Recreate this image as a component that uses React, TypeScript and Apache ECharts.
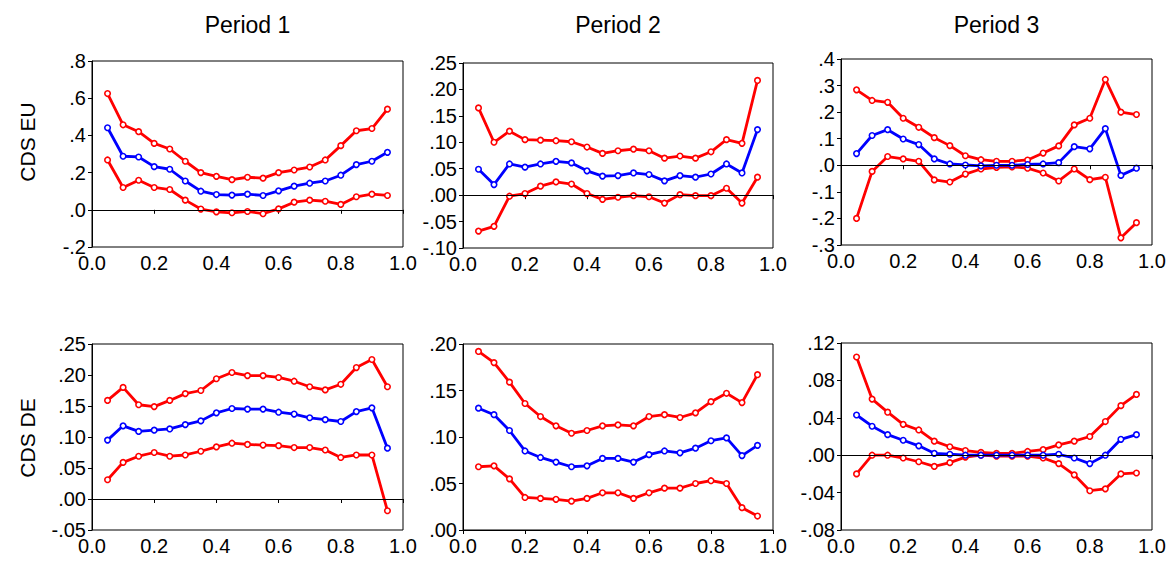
import React, { useEffect, useRef } from "react";
import * as echarts from "echarts";

// Quantile grid (tau) shared by every panel
const tau = [0.05, 0.1, 0.15, 0.2, 0.25, 0.3, 0.35, 0.4, 0.45, 0.5, 0.55, 0.6, 0.65, 0.7, 0.75, 0.8, 0.85, 0.9, 0.95];

const periodTitles = ["Period 1", "Period 2", "Period 3"];
const rowLabels = ["CDS EU", "CDS DE"];

// CDS EU, period 1
const euP1Upper = [0.625, 0.457, 0.42, 0.357, 0.327, 0.261, 0.2, 0.18, 0.162, 0.175, 0.17, 0.2, 0.214, 0.23, 0.268, 0.345, 0.425, 0.437, 0.541];
const euP1Coef = [0.441, 0.288, 0.284, 0.232, 0.218, 0.155, 0.1, 0.082, 0.079, 0.084, 0.077, 0.102, 0.127, 0.143, 0.155, 0.186, 0.243, 0.261, 0.309];
const euP1Lower = [0.268, 0.12, 0.159, 0.12, 0.109, 0.052, 0.004, -0.011, -0.016, -0.009, -0.021, 0.005, 0.041, 0.052, 0.046, 0.029, 0.07, 0.084, 0.077];

// CDS EU, period 2
const euP2Upper = [0.165, 0.1, 0.121, 0.105, 0.104, 0.103, 0.101, 0.091, 0.079, 0.084, 0.087, 0.084, 0.07, 0.074, 0.07, 0.082, 0.105, 0.098, 0.217];
const euP2Coef = [0.049, 0.02, 0.059, 0.053, 0.059, 0.064, 0.061, 0.046, 0.036, 0.037, 0.042, 0.039, 0.027, 0.037, 0.034, 0.04, 0.059, 0.042, 0.124];
const euP2Lower = [-0.068, -0.059, -0.002, 0.003, 0.017, 0.025, 0.021, 0.003, -0.008, -0.004, -0.001, -0.003, -0.015, 0.001, -0.001, -0.001, 0.013, -0.015, 0.034];

// CDS EU, period 3
const euP3Upper = [0.284, 0.244, 0.237, 0.177, 0.143, 0.104, 0.074, 0.036, 0.021, 0.015, 0.015, 0.02, 0.046, 0.073, 0.152, 0.177, 0.323, 0.2, 0.191];
const euP3Coef = [0.044, 0.112, 0.134, 0.099, 0.078, 0.024, 0.005, 0.001, -0.002, 0.0, 0.0, 0.003, 0.005, 0.01, 0.07, 0.062, 0.138, -0.038, -0.011];
const euP3Lower = [-0.2, -0.023, 0.033, 0.024, 0.015, -0.055, -0.063, -0.033, -0.014, -0.008, -0.006, -0.011, -0.029, -0.059, -0.014, -0.054, -0.045, -0.273, -0.216];

// CDS DE, period 1
const deP1Upper = [0.159, 0.18, 0.152, 0.149, 0.159, 0.17, 0.175, 0.194, 0.204, 0.199, 0.199, 0.196, 0.19, 0.181, 0.176, 0.185, 0.212, 0.225, 0.181];
const deP1Coef = [0.095, 0.118, 0.109, 0.111, 0.113, 0.12, 0.126, 0.139, 0.146, 0.145, 0.145, 0.14, 0.137, 0.131, 0.128, 0.125, 0.141, 0.147, 0.082];
const deP1Lower = [0.031, 0.059, 0.069, 0.075, 0.069, 0.071, 0.077, 0.084, 0.09, 0.088, 0.087, 0.086, 0.083, 0.083, 0.079, 0.067, 0.071, 0.071, -0.019];

// CDS DE, period 2
const deP2Upper = [0.192, 0.18, 0.159, 0.136, 0.122, 0.112, 0.104, 0.107, 0.112, 0.113, 0.112, 0.122, 0.124, 0.121, 0.126, 0.138, 0.147, 0.137, 0.167];
const deP2Coef = [0.131, 0.124, 0.107, 0.085, 0.078, 0.073, 0.068, 0.069, 0.077, 0.077, 0.073, 0.081, 0.085, 0.083, 0.088, 0.096, 0.099, 0.08, 0.091];
const deP2Lower = [0.068, 0.069, 0.055, 0.035, 0.034, 0.033, 0.031, 0.034, 0.04, 0.04, 0.034, 0.04, 0.045, 0.045, 0.05, 0.053, 0.05, 0.024, 0.015];

// CDS DE, period 3
const deP3Upper = [0.105, 0.06, 0.046, 0.033, 0.027, 0.015, 0.009, 0.005, 0.003, 0.002, 0.002, 0.004, 0.006, 0.011, 0.015, 0.02, 0.036, 0.053, 0.065];
const deP3Coef = [0.043, 0.031, 0.022, 0.016, 0.01, 0.002, 0.001, 0.0, 0.0, 0.0, 0.0, 0.0, 0.0, 0.001, -0.003, -0.009, 0.0, 0.017, 0.022];
const deP3Lower = [-0.02, 0.0, 0.0, -0.003, -0.007, -0.012, -0.008, -0.002, 0.0, -0.001, -0.001, -0.001, -0.003, -0.009, -0.021, -0.038, -0.036, -0.02, -0.019];

// Y axis ranges: [min, max, interval, decimals]
const yScales: [number, number, number, number][] = [
  [-0.2, 0.8, 0.2, 1],
  [-0.1, 0.25, 0.05, 2],
  [-0.3, 0.4, 0.1, 1],
  [-0.05, 0.25, 0.05, 2],
  [0, 0.2, 0.05, 2],
  [-0.08, 0.12, 0.04, 2],
];

const panelSeries = [
  [euP1Upper, euP1Coef, euP1Lower],
  [euP2Upper, euP2Coef, euP2Lower],
  [euP3Upper, euP3Coef, euP3Lower],
  [deP1Upper, deP1Coef, deP1Lower],
  [deP2Upper, deP2Coef, deP2Lower],
  [deP3Upper, deP3Coef, deP3Lower],
];

const RED = "#ff0000";
const BLUE = "#0000ff";
const FONT = '"Liberation Sans", Arial, sans-serif';

// Plot box geometry of the 3 x 2 layout
const grids = [
  { left: 92, top: 61, width: 311, height: 186 },
  { left: 463, top: 63, width: 310, height: 185 },
  { left: 841, top: 59, width: 311, height: 186 },
  { left: 92, top: 344, width: 311, height: 186 },
  { left: 463, top: 344, width: 310, height: 186 },
  { left: 841, top: 343, width: 311, height: 187 },
];

// EViews-style labels: ".25", "-.05", ".0"
const fmtTick = (d: number) => (raw: number | string) => {
  const v = Math.round(Number(raw) * 1e6) / 1e6;
  const s = Math.abs(v).toFixed(d).replace(/^0/, "");
  return (v < 0 ? "-" : "") + s;
};

export default function App() {
  const ref = useRef<HTMLDivElement>(null);

  useEffect(() => {
    if (!ref.current) return;
    const chart = echarts.init(ref.current, null, { renderer: "svg" });

    const xAxis = grids.map((_, i) => ({
      type: "value",
      gridIndex: i,
      min: 0,
      max: 1,
      interval: 0.2,
      axisLine: { show: true, lineStyle: { color: "#000", width: 1 } },
      axisTick: { show: true, inside: false, length: 4, lineStyle: { color: "#000" } },
      axisLabel: {
        color: "#000",
        fontSize: 20,
        fontFamily: FONT,
        margin: 6,
        formatter: (v: number) => Number(v).toFixed(1),
      },
      splitLine: { show: false },
    }));

    const yAxis = yScales.map(([min, max, interval, dec], i) => ({
      type: "value",
      gridIndex: i,
      min,
      max,
      interval,
      axisLine: { show: true, lineStyle: { color: "#000", width: 1 } },
      axisTick: { show: true, inside: false, length: 4, lineStyle: { color: "#000" } },
      axisLabel: {
        color: "#000",
        fontSize: 20,
        fontFamily: FONT,
        margin: 6,
        formatter: fmtTick(dec),
      },
      splitLine: { show: false },
    }));

    const series: any[] = [];
    panelSeries.forEach((trio, i) => {
      trio.forEach((vals, k) => {
        const color = k === 1 ? BLUE : RED;
        series.push({
          type: "line",
          xAxisIndex: i,
          yAxisIndex: i,
          data: vals.map((v, j) => [tau[j], v]),
          symbol: "circle",
          symbolSize: 5.5,
          showSymbol: true,
          z: k === 1 ? 3 : 2,
          lineStyle: { color, width: 2.8 },
          itemStyle: { color: "#fff", borderColor: color, borderWidth: 1.6 },
          markLine:
            k === 0
              ? {
                  silent: true,
                  symbol: "none",
                  label: { show: false },
                  lineStyle: { color: "#000", width: 1, type: "solid" },
                  data: [{ yAxis: 0 }],
                }
              : undefined,
        });
      });
    });

    const graphic: any[] = [];
    periodTitles.forEach((t, i) => {
      const g = grids[i];
      graphic.push({
        type: "text",
        x: g.left + g.width / 2,
        y: 25,
        style: {
          text: t,
          fontSize: 23,
          fontFamily: FONT,
          fill: "#000",
          align: "center",
          verticalAlign: "middle",
        },
      });
    });
    rowLabels.forEach((t, r) => {
      graphic.push({
        type: "text",
        x: 27,
        y: r === 0 ? 142 : 438,
        rotation: Math.PI / 2,
        style: {
          text: t,
          fontSize: 21,
          fontFamily: FONT,
          fill: "#000",
          align: "center",
          verticalAlign: "middle",
        },
      });
    });

    chart.setOption({
      animation: false,
      backgroundColor: "#fff",
      grid: grids.map((g) => ({
        ...g,
        containLabel: false,
        show: true,
        borderColor: "#000",
        borderWidth: 1,
        backgroundColor: "transparent",
      })),
      xAxis,
      yAxis,
      series,
      graphic,
    });

    return () => chart.dispose();
  }, []);

  return (
    <div
      ref={ref}
      style={{ position: "fixed", left: 0, top: 0, width: 1169, height: 570, background: "#fff" }}
    />
  );
}
